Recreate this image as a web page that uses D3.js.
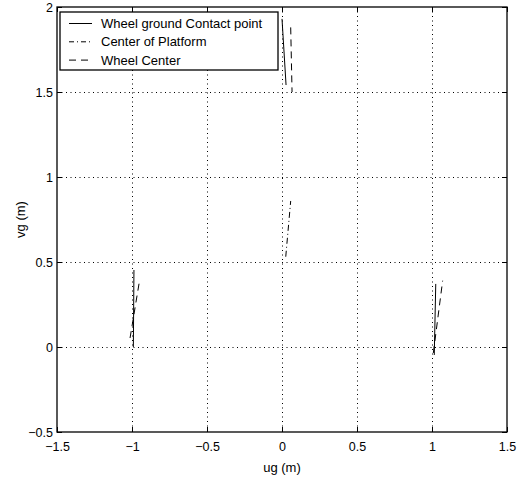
<!DOCTYPE html>
<html>
<head>
<meta charset="utf-8">
<script src="https://cdn.jsdelivr.net/npm/d3@7"></script>
<style>
  body { margin: 0; background: #fff; }
  svg { display: block; font-family: "Liberation Sans", Arial, sans-serif; }
  .tick text { font-size: 12.5px; fill: #000; }
  .domain { display: none; }
</style>
</head>
<body>
<svg id="chart" width="529" height="478"></svg>
<script>
// trajectories: [ug, vg] pairs in metres
const contactPaths = [
  [[-0.991, 0.0], [-0.987, 0.453]],
  [[0.0, 1.93], [0.027, 1.541]],
  [[1.015, -0.047], [1.025, 0.371]]
]
const platformPath = [[0.025, 0.531], [0.058, 0.859]]
const wheelCenterPaths = [
  [[-1.013, 0.053], [-0.951, 0.384]],
  [[0.058, 1.88], [0.067, 1.5]],
  [[1.009, -0.035], [1.071, 0.39]]
]

const xTicks = [-1.5, -1, -0.5, 0, 0.5, 1, 1.5]
const yTicks = [-0.5, 0, 0.5, 1, 1.5, 2]
const legendLabels = ["Wheel ground Contact point", "Center of Platform", "Wheel Center"]

const width = 529, height = 478
const margin = {left: 57, top: 7, right: 22, bottom: 46}
const plotW = width - margin.left - margin.right
const plotH = height - margin.top - margin.bottom

const fmt = v => String(v).replace("-", "\u2212")

const svg = d3.select("#chart")
const g = svg.append("g").attr("transform", `translate(${margin.left},${margin.top})`)

const x = d3.scaleLinear().domain([-1.5, 1.5]).range([0, plotW])
const y = d3.scaleLinear().domain([-0.5, 2]).range([plotH, 0])

// dotted grid
g.append("g").selectAll("line").data(xTicks.slice(1, -1)).join("line")
  .attr("x1", d => Math.round(x(d)) + 0.5).attr("x2", d => Math.round(x(d)) + 0.5)
  .attr("y1", 0).attr("y2", plotH)
  .attr("stroke", "#000").attr("stroke-dasharray", "1,3.5").attr("stroke-width", 1)
g.append("g").selectAll("line").data(yTicks.slice(1, -1)).join("line")
  .attr("y1", d => Math.round(y(d)) + 0.5).attr("y2", d => Math.round(y(d)) + 0.5)
  .attr("x1", 0).attr("x2", plotW)
  .attr("stroke", "#000").attr("stroke-dasharray", "1,3.5").attr("stroke-width", 1)

// axes, ticks pointing inwards
const tickLen = 5
g.append("g").attr("transform", `translate(0,${plotH})`)
  .call(d3.axisBottom(x).tickValues(xTicks).tickFormat(fmt).tickSizeInner(-tickLen).tickSizeOuter(0).tickPadding(10))
g.append("g")
  .call(d3.axisLeft(y).tickValues(yTicks).tickFormat(fmt).tickSizeInner(-tickLen).tickSizeOuter(0).tickPadding(4))
g.append("g")
  .call(d3.axisTop(x).tickValues(xTicks).tickFormat("").tickSizeInner(-tickLen).tickSizeOuter(0))
g.append("g").attr("transform", `translate(${plotW},0)`)
  .call(d3.axisRight(y).tickValues(yTicks).tickFormat("").tickSizeInner(-tickLen).tickSizeOuter(0))
g.selectAll(".tick line").attr("stroke", "#000")

g.append("rect").attr("x", 0).attr("y", 0).attr("width", plotW).attr("height", plotH)
  .attr("fill", "none").attr("stroke", "#000").attr("stroke-width", 1.3)

// trajectories
const line = d3.line().x(d => x(d[0])).y(d => y(d[1]))
g.selectAll(".contact").data(contactPaths).join("path").attr("class", "contact")
  .attr("d", line).attr("fill", "none").attr("stroke", "#000").attr("stroke-width", 1)
g.append("path").datum(platformPath)
  .attr("d", line).attr("fill", "none").attr("stroke", "#000").attr("stroke-width", 1)
  .attr("stroke-dasharray", "6,3,1,3")
g.selectAll(".wheel").data(wheelCenterPaths).join("path").attr("class", "wheel")
  .attr("d", line).attr("fill", "none").attr("stroke", "#000").attr("stroke-width", 1)
  .attr("stroke-dasharray", "7,5")

// axis labels
svg.append("text").attr("x", margin.left + plotW / 2).attr("y", 472)
  .attr("text-anchor", "middle").attr("font-size", 13).text("ug (m)")
svg.append("text").attr("transform", `translate(25,${margin.top + plotH / 2}) rotate(-90)`)
  .attr("text-anchor", "middle").attr("font-size", 13).text("vg (m)")

// legend
const legendDash = [null, "5,3,1,3", "7,5"]
const legend = svg.append("g").attr("transform", "translate(60,12)")
legend.append("rect").attr("width", 218).attr("height", 58)
  .attr("fill", "#fff").attr("stroke", "#000").attr("stroke-width", 1.3)
legendLabels.forEach((label, i) => {
  let rowY = 11.5 + i * 18.3
  legend.append("line").attr("x1", 9).attr("x2", 32).attr("y1", rowY).attr("y2", rowY)
    .attr("stroke", "#000").attr("stroke-width", 1)
    .attr("stroke-dasharray", legendDash[i])
  legend.append("text").attr("x", 41).attr("y", rowY).attr("dy", "0.36em")
    .attr("font-size", 13).text(label)
})
</script>
</body>
</html>
